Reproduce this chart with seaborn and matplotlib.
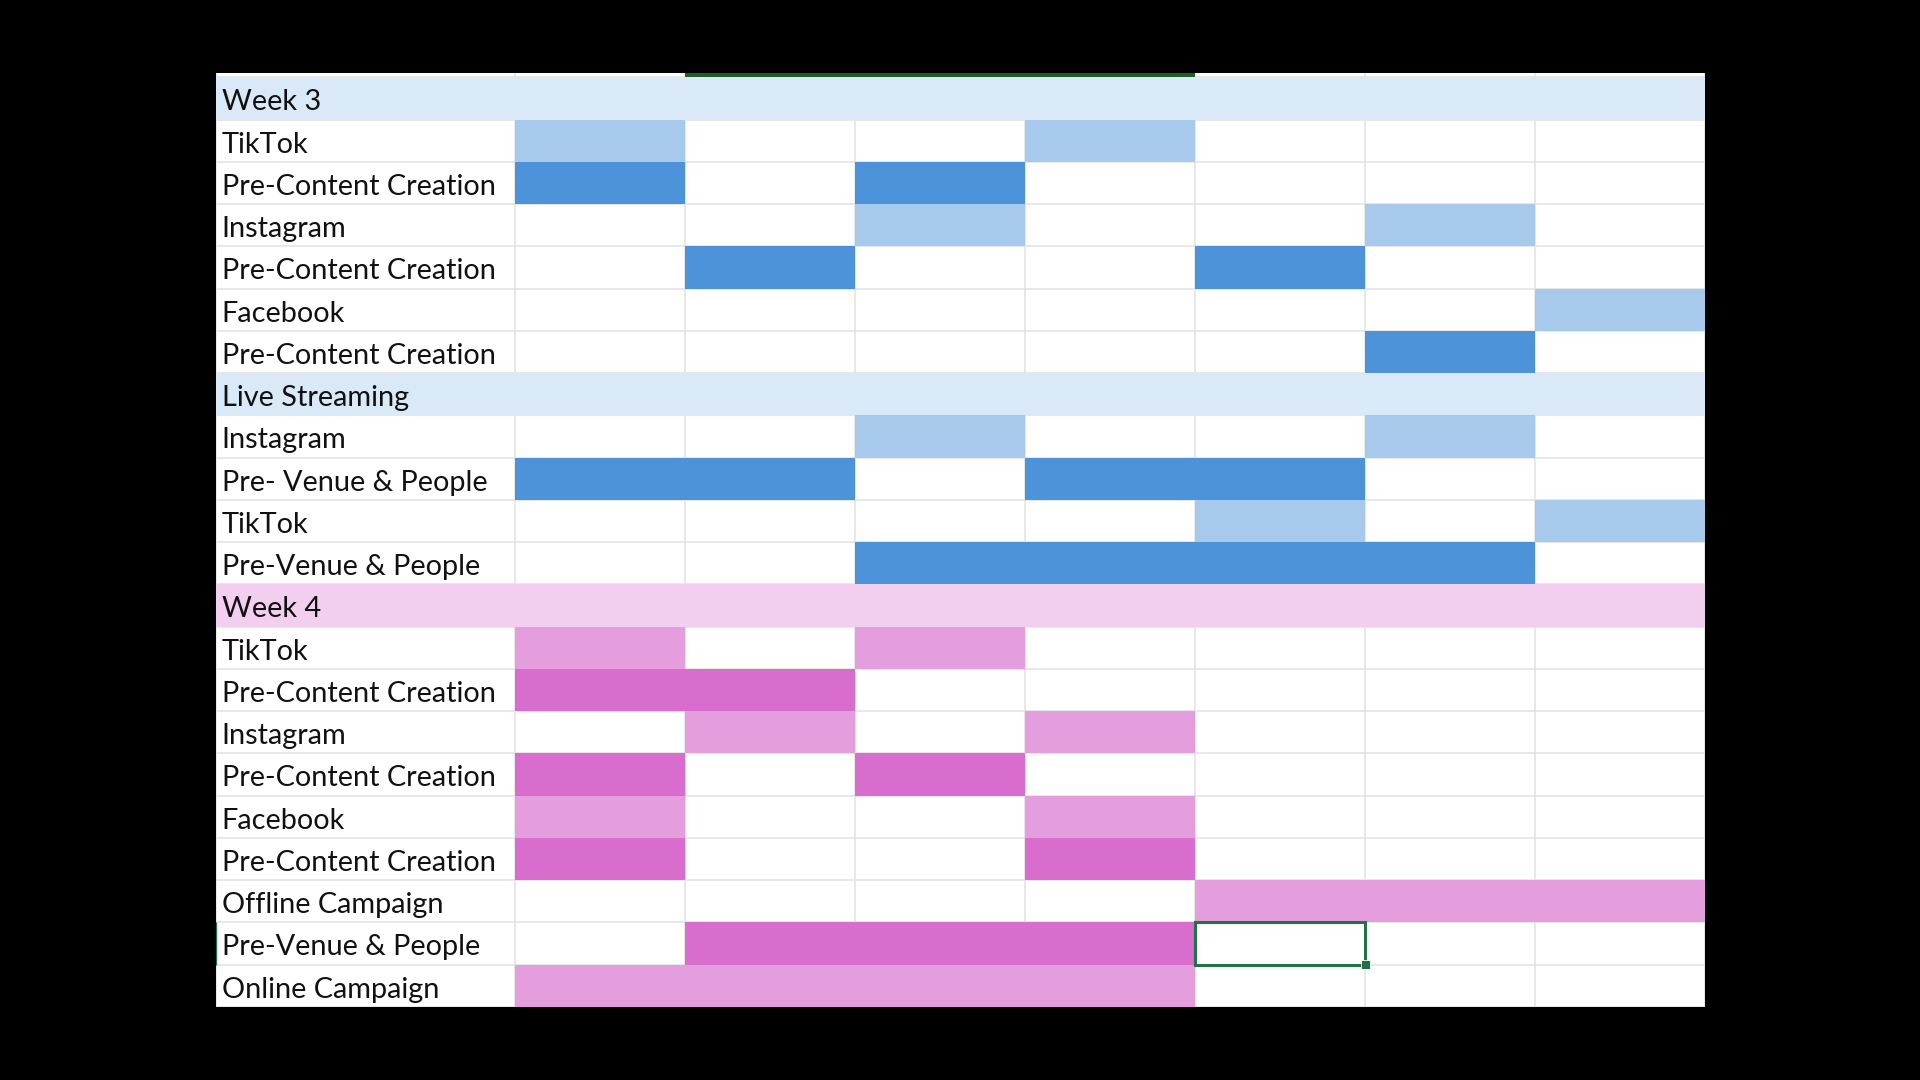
import numpy as np
import matplotlib
matplotlib.use("Agg")
import matplotlib.pyplot as plt
from matplotlib.colors import ListedColormap
from matplotlib.patches import Rectangle
import seaborn as sns

# Linhas da planilha (rótulos da primeira coluna)
row_labels = [
    "Week 3", "TikTok", "Pre-Content Creation", "Instagram", "Pre-Content Creation",
    "Facebook", "Pre-Content Creation", "Live Streaming", "Instagram", "Pre- Venue & People",
    "TikTok", "Pre-Venue & People", "Week 4", "TikTok", "Pre-Content Creation",
    "Instagram", "Pre-Content Creation", "Facebook", "Pre-Content Creation",
    "Offline Campaign", "Pre-Venue & People", "Online Campaign",
]
# tipo de cada linha: cabeçalho, canal (claro) ou preparação (escuro)
row_type = [
    "header", "light", "dark", "light", "dark", "light", "dark", "header", "light", "dark",
    "light", "dark", "header", "light", "dark", "light", "dark", "light", "dark",
    "light", "dark", "light",
]
# seção de cada linha (azul = semana 3, rosa = semana 4)
row_section = ["blue"] * 12 + ["pink"] * 10
# colunas (dias) preenchidas em cada linha
row_cells = [
    [], [0, 3], [0, 2], [2, 5], [1, 4], [6], [5], [], [2, 5], [0, 1, 3, 4],
    [4, 6], [2, 3, 4, 5], [], [0, 2], [0, 1], [1, 3], [0, 2], [0, 3], [0, 3],
    [4, 5, 6], [1, 2, 3], [0, 1, 2, 3],
]
n_days = 7
selected_cell = (20, 4)  # linha, coluna da célula selecionada

# Cores do tema do Excel
colors = ["#FFFFFF", "#DAE9F8", "#A6C9EC", "#4D93D9", "#F2CEEF", "#E49EDD", "#D86DCD"]
code_of = {("blue", "header"): 1, ("blue", "light"): 2, ("blue", "dark"): 3,
           ("pink", "header"): 4, ("pink", "light"): 5, ("pink", "dark"): 6}

n_rows = len(row_labels)
grid = np.zeros((n_rows, n_days))
label_grid = np.zeros((n_rows, 1))
for i in range(n_rows):
    code = code_of[(row_section[i], row_type[i])]
    if row_type[i] == "header":
        grid[i, :] = code
        label_grid[i, 0] = code
    else:
        grid[i, row_cells[i]] = code

cmap = ListedColormap(colors)
grid_color = "#E1E1E1"
top_pad = 4.6 / 42.27  # faixa branca acima da primeira linha

fig = plt.figure(figsize=(19.2, 10.8), dpi=100, facecolor="black")
W, H = 1920, 1080
ax_lab = fig.add_axes([215.7 / W, 1 - 1007 / H, (515 - 215.7) / W, (1007 - 72.7) / H])
ax = fig.add_axes([515 / W, 1 - 1007 / H, (1705 - 515) / W, (1007 - 72.7) / H])

for a, g in [(ax_lab, label_grid), (ax, grid)]:
    a.set_facecolor("white")
    sns.heatmap(g, ax=a, cmap=cmap, vmin=-0.5, vmax=6.5, mask=(g == 0), cbar=False,
                xticklabels=False, yticklabels=False)
    a.set_ylim(n_rows, -top_pad)
    a.set_xlim(0, g.shape[1])
    # linhas de grade por baixo das células preenchidas
    a.hlines(np.arange(n_rows + 1), 0, g.shape[1], color=grid_color, lw=1.1, zorder=0.5)
    a.vlines(np.arange(g.shape[1] + 1), -top_pad, n_rows, color=grid_color, lw=1.1, zorder=0.5)
    for s in a.spines.values():
        s.set_visible(False)
    a.tick_params(left=False, bottom=False)

# textos da primeira coluna
for i, lab in enumerate(row_labels):
    ax_lab.text(0.02, i + 0.78, lab, fontsize=20.8, family=["Lato", "DejaVu Sans"],
                color="#111111", ha="left", va="baseline", zorder=5)

# destaque verde no topo (colunas selecionadas antes)
ax.add_patch(Rectangle((1, -top_pad), 3, top_pad, facecolor="#1E5E2A", edgecolor="none",
                       zorder=4, clip_on=False))
# célula selecionada
r, c = selected_cell
ax.add_patch(Rectangle((c, r), 1, 1, facecolor="none", edgecolor="#217346", lw=2.2,
                       zorder=6, clip_on=False))
hw, hh = 9 / 170, 9 / 42.27
ax.add_patch(Rectangle((c + 1 - hw / 2, r + 1 - hh / 2), hw, hh, facecolor="#217346",
                       edgecolor="white", lw=0.6, zorder=7, clip_on=False))
ax_lab.vlines(0, r, r + 1, color="#217346", lw=1.0, zorder=6)

fig.savefig("out.png", dpi=100, facecolor="black")
